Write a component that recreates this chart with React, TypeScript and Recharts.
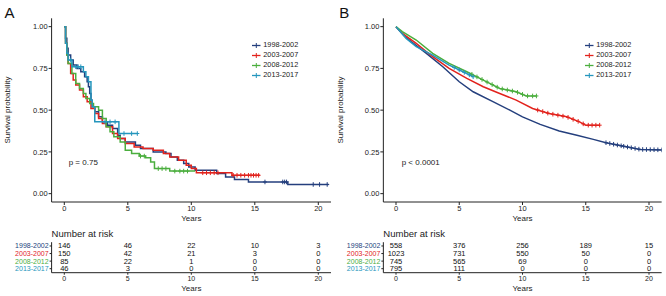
import React from "react";
import { ComposedChart, Line, Scatter, XAxis, YAxis } from "recharts";

const groups = ["1998-2002", "2003-2007", "2008-2012", "2013-2017"];
const colors = ["#243f7d", "#e2231d", "#4bae3e", "#2596bd"];

const xTicks = [0, 5, 10, 15, 20];
const yTicks = [0, 0.25, 0.5, 0.75, 1];

// panel A: Kaplan-Meier steps, [years, survival]
const kmA1998 = [
  [0, 1], [0.1, 0.93], [0.2, 0.87], [0.3, 0.83], [0.5, 0.8], [0.7, 0.77], [1.0, 0.75],
  [1.3, 0.73], [1.6, 0.7], [1.8, 0.67], [1.9, 0.64], [2.0, 0.6], [2.1, 0.56], [2.2, 0.52],
  [2.4, 0.49], [2.7, 0.46], [3.0, 0.43], [3.4, 0.41], [3.8, 0.39], [4.2, 0.35], [4.4, 0.33],
  [4.8, 0.31], [5.6, 0.29], [6.0, 0.27], [7.0, 0.25], [8.0, 0.24], [8.4, 0.22], [8.9, 0.2],
  [9.4, 0.18], [9.8, 0.16], [10.3, 0.14], [12.0, 0.12], [12.7, 0.1], [13.4, 0.085],
  [14.5, 0.07], [17.6, 0.055], [20.8, 0.055],
];
const kmA2003 = [
  [0, 1], [0.1, 0.9], [0.2, 0.83], [0.3, 0.78], [0.5, 0.72], [0.7, 0.68], [0.9, 0.65],
  [1.2, 0.62], [1.5, 0.58], [1.8, 0.55], [2.1, 0.51], [2.4, 0.48], [2.7, 0.45], [3.0, 0.42],
  [3.3, 0.4], [3.8, 0.36], [4.2, 0.33], [4.8, 0.3], [5.5, 0.28], [6.2, 0.27], [7.0, 0.26],
  [7.8, 0.24], [8.3, 0.22], [9.0, 0.2], [9.6, 0.17], [10.0, 0.15], [10.4, 0.125],
  [13.2, 0.11], [15.4, 0.11],
];
const kmA2008 = [
  [0, 1], [0.1, 0.9], [0.2, 0.83], [0.3, 0.78], [0.6, 0.72], [0.9, 0.66], [1.2, 0.63],
  [1.5, 0.6], [1.7, 0.57], [2.0, 0.54], [2.3, 0.52], [2.7, 0.5], [3.0, 0.45], [3.3, 0.4],
  [3.6, 0.37], [3.9, 0.34], [4.4, 0.31], [4.8, 0.26], [5.3, 0.24], [5.9, 0.225],
  [6.4, 0.215], [6.8, 0.19], [7.1, 0.15], [8.3, 0.135], [10.3, 0.135],
];
const kmA2013 = [
  [0, 1], [0.1, 0.9], [0.2, 0.84], [0.3, 0.8], [0.6, 0.76], [1.5, 0.73], [1.7, 0.7],
  [1.9, 0.67], [2.1, 0.56], [2.2, 0.52], [2.4, 0.43], [4.3, 0.36], [5.75, 0.36],
];
const censorA1998 = [15.8, 17.2, 17.35, 17.5, 19.6, 20.1, 20.7];
const censorA2003 = [10.9, 11.2, 11.5, 11.8, 12.1, 13.3, 13.6, 13.9, 14.2, 14.5, 14.7, 14.9, 15.1, 15.3];
const censorA2008 = [6.0, 6.3, 7.4, 7.7, 8.0, 8.7, 9.1, 9.4, 9.7];
const censorA2013 = [0.5, 0.9, 1.1, 1.3, 3.2, 3.6, 4.0, 4.7, 5.3, 5.75];
const riskA = [
  [146, 46, 22, 10, 3],
  [150, 42, 21, 3, 0],
  [85, 22, 1, 0, 0],
  [46, 3, 0, 0, 0],
];

// panel B: survival, [years, survival]
const kmB1998 = [
  [0, 1], [0.6, 0.95], [1.2, 0.91], [2.4, 0.84], [3.7, 0.76], [5.0, 0.67], [6.1, 0.61],
  [7.7, 0.55], [9.0, 0.5], [10.0, 0.46], [11.4, 0.415], [12.9, 0.375], [14.3, 0.35],
  [15.6, 0.325], [16.6, 0.305], [17.9, 0.285], [19.3, 0.265], [21.0, 0.262],
];
const kmB2003 = [
  [0, 1], [0.5, 0.96], [1.6, 0.9], [2.9, 0.82], [4.2, 0.75], [5.6, 0.69], [6.9, 0.64],
  [8.2, 0.6], [9.5, 0.56], [10.8, 0.51], [12.1, 0.48], [13.5, 0.46], [14.5, 0.43],
  [15.0, 0.41], [16.1, 0.41],
];
const kmB2008 = [
  [0, 1], [0.5, 0.97], [1.6, 0.92], [2.9, 0.84], [4.2, 0.78], [5.6, 0.73], [6.9, 0.68],
  [8.2, 0.63], [9.5, 0.61], [10.3, 0.585], [11.1, 0.585],
];
const kmB2013 = [
  [0, 1], [0.8, 0.93], [1.6, 0.88], [2.9, 0.83], [4.2, 0.77], [5.3, 0.73], [6.1, 0.7],
];
const censorB1998 = [16.6, 16.9, 17.2, 17.5, 17.8, 18.0, 18.3, 18.6, 18.9, 19.2, 19.5, 19.8, 20.1, 20.4, 20.7, 21.0];
const censorB2003 = [11.2, 11.6, 12.0, 12.4, 12.8, 13.2, 13.6, 14.0, 14.4, 14.8, 15.2, 15.5, 15.8, 16.1];
const censorB2008 = [6.0, 6.4, 6.8, 7.2, 7.6, 8.0, 8.4, 8.8, 9.2, 9.6, 10.0, 10.4, 10.8, 11.1];
const censorB2013 = [4.6, 5.0, 5.4, 5.8, 6.1];
const riskB = [
  [558, 376, 256, 189, 15],
  [1023, 731, 550, 50, 0],
  [745, 565, 69, 0, 0],
  [795, 111, 0, 0, 0],
];

const font = "'Liberation Sans', Arial, sans-serif";

const stepAt = (pts: number[][], t: number) => {
  let s = pts[0][1];
  for (const [x, y] of pts) if (x <= t) s = y;
  return s;
};

const linAt = (pts: number[][], t: number) => {
  for (let i = 1; i < pts.length; i++) {
    const [x0, y0] = pts[i - 1];
    const [x1, y1] = pts[i];
    if (t <= x1) return y0 + ((y1 - y0) * (t - x0)) / (x1 - x0);
  }
  return pts[pts.length - 1][1];
};

const Plus = ({ cx, cy, color }: { cx?: number; cy?: number; color: string }) => {
  if (cx == null || cy == null) return null;
  return (
    <g stroke={color} strokeWidth={1}>
      <line x1={cx} y1={cy - 2.3} x2={cx} y2={cy + 2.3} />
      <line x1={cx - 2} y1={cy} x2={cx + 2} y2={cy} />
    </g>
  );
};

const Txt = ({
  x, y, size, anchor = "start", color = "#222", rotate = false, children,
}: {
  x: number; y: number; size: number; anchor?: "start" | "middle"; color?: string;
  rotate?: boolean; children: React.ReactNode;
}) => (
  <div
    style={{
      position: "absolute",
      left: x,
      top: y,
      fontSize: size,
      lineHeight: 1,
      fontFamily: font,
      color,
      whiteSpace: "nowrap",
      transform:
        (anchor === "middle" ? "translate(-50%,-50%)" : "translate(0,-50%)") +
        (rotate ? " rotate(-90deg)" : ""),
    }}
  >
    {children}
  </div>
);

const RowTick = (props: any) => {
  const { x, y, payload } = props;
  const i = 4 - payload.value;
  return (
    <text x={x} y={y} textAnchor="end" dominantBaseline="central" fontSize={7} fontFamily={font} fill={colors[i]}>
      {groups[i]}
    </text>
  );
};

type PanelProps = {
  left: number;
  letter: string;
  curves: number[][][];
  censors: number[][];
  step: boolean;
  pText: string;
  risk: number[][];
  plotLeft: number;
  plotRight: number;
};

const Panel = ({ left, letter, curves, censors, step, pText, risk, plotLeft, plotRight }: PanelProps) => {
  const mr = 333 - plotRight;
  const axisStroke = { stroke: "#222", strokeWidth: 1 };
  const curveData = curves.map((c) => c.map(([t, s]) => ({ t, s })));
  const censorData = censors.map((times, i) =>
    times.map((t) => ({ t, s: step ? stepAt(curves[i], t) : linAt(curves[i], t) }))
  );
  const tableData = risk.flatMap((row, i) => row.map((n, j) => ({ t: xTicks[j], row: 4 - i, n })));
  const midX = (plotLeft + plotRight) / 2;

  return (
    <div style={{ position: "absolute", left, top: 0, width: 333, height: 296 }}>
      <div style={{ position: "absolute", left: 0, top: 0 }}>
        <ComposedChart width={333} height={226} margin={{ top: 18.3, right: mr, bottom: 0, left: 0 }}>
          <XAxis
            dataKey="t"
            type="number"
            domain={[-1, 21]}
            ticks={xTicks}
            interval={0}
            allowDataOverflow
            height={24}
            tickSize={3}
            tickMargin={1}
            axisLine={axisStroke}
            tickLine={axisStroke}
            tick={{ fontSize: 7.5, fill: "#222", fontFamily: font }}
          />
          <YAxis
            type="number"
            domain={[-0.05, 1.05]}
            ticks={yTicks}
            interval={0}
            allowDataOverflow
            width={plotLeft}
            tickSize={3}
            tickMargin={1}
            tickFormatter={(v: number) => v.toFixed(2)}
            axisLine={axisStroke}
            tickLine={axisStroke}
            tick={{ fontSize: 7.5, fill: "#222", fontFamily: font }}
          />
          {curveData.map((d, i) => (
            <Line
              key={"c" + i}
              data={d}
              dataKey="s"
              type={step ? "stepAfter" : "linear"}
              stroke={colors[i]}
              strokeWidth={1.5}
              dot={false}
              activeDot={false}
              isAnimationActive={false}
            />
          ))}
          {censorData.map((d, i) => (
            <Scatter
              key={"m" + i}
              data={d}
              dataKey="s"
              isAnimationActive={false}
              shape={(p: any) => <Plus cx={p.cx} cy={p.cy} color={colors[i]} />}
            />
          ))}
        </ComposedChart>
      </div>

      <div style={{ position: "absolute", left: 0, top: 225 }}>
        <ComposedChart width={333} height={71} margin={{ top: 17.2, right: mr, bottom: 0, left: 0 }}>
          <XAxis
            dataKey="t"
            type="number"
            domain={[-1, 21]}
            ticks={xTicks}
            interval={0}
            allowDataOverflow
            height={23.3}
            tickSize={2}
            tickMargin={1}
            axisLine={axisStroke}
            tickLine={axisStroke}
            tick={{ fontSize: 7, fill: "#222", fontFamily: font }}
          />
          <YAxis
            type="number"
            domain={[0.47, 4.5]}
            ticks={[1, 2, 3, 4]}
            interval={0}
            allowDataOverflow
            width={plotLeft}
            tickSize={2}
            tickMargin={1}
            axisLine={axisStroke}
            tickLine={axisStroke}
            tick={<RowTick />}
          />
          <Scatter
            data={tableData}
            dataKey="row"
            isAnimationActive={false}
            shape={(p: any) => (
              <text x={p.cx} y={p.cy} textAnchor="middle" dominantBaseline="central" fontSize={7.5} fontFamily={font} fill="#111">
                {p.payload.n}
              </text>
            )}
          />
        </ComposedChart>
      </div>

      <Txt x={letter === "A" ? 4.5 : 6.2} y={11.8} size={15} color="#111">{letter}</Txt>
      <Txt x={8.3} y={110} size={8} anchor="middle" rotate>Survival probability</Txt>
      <Txt x={midX} y={219} size={8} anchor="middle">Years</Txt>
      <Txt x={68.7} y={162.7} size={8}>{pText}</Txt>
      <Txt x={plotLeft} y={234.3} size={9.5}>Number at risk</Txt>
      <Txt x={midX} y={289} size={8} anchor="middle">Years</Txt>

      {groups.map((g, i) => (
        <div key={g} style={{ position: "absolute", left: 251.6, top: 45 + i * 10.1 - 3.5, width: 9, height: 7 }}>
          <svg width={9} height={7} style={{ display: "block" }}>
            <line x1={0} y1={3.5} x2={8.5} y2={3.5} stroke={colors[i]} strokeWidth={1.3} />
            <line x1={4.3} y1={1} x2={4.3} y2={6} stroke={colors[i]} strokeWidth={1} />
          </svg>
        </div>
      ))}
      {groups.map((g, i) => (
        <Txt key={"t" + g} x={263.3} y={45 + i * 10.1} size={7.3}>{g}</Txt>
      ))}
    </div>
  );
};

export default function App() {
  return (
    <div style={{ position: "absolute", left: 0, top: 0, width: 666, height: 296, background: "#fff", overflow: "hidden" }}>
      <Panel
        left={0}
        letter="A"
        curves={[kmA1998, kmA2003, kmA2008, kmA2013]}
        censors={[censorA1998, censorA2003, censorA2008, censorA2013]}
        step
        pText="p = 0.75"
        risk={riskA}
        plotLeft={51.6}
        plotRight={331}
      />
      <Panel
        left={333}
        letter="B"
        curves={[kmB1998, kmB2003, kmB2008, kmB2013]}
        censors={[censorB1998, censorB2003, censorB2008, censorB2013]}
        step={false}
        pText="p < 0.0001"
        risk={riskB}
        plotLeft={50.35}
        plotRight={328.65}
      />
    </div>
  );
}
